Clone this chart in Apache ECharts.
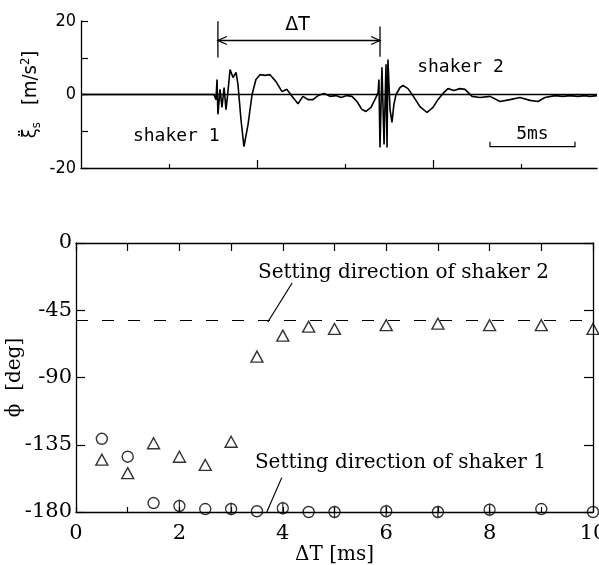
<!DOCTYPE html>
<html>
<head>
<meta charset="utf-8">
<title>shaker timing and phase</title>
<script src="https://cdn.jsdelivr.net/npm/echarts@6/dist/echarts.min.js"></script>
<style>html,body{margin:0;background:#fff;}</style>
</head>
<body>
<div id="chart" style="width:599px;height:565px;"></div>
<script>
// --- top panel: acceleration record [ms, m/s^2]
var signal = [
  [0, 0], [7.55, 0], [7.61, 0], [7.67, -1.4], [7.73, 4.1], [7.78, -5.4], [7.90, 1.4],
  [8.01, -3.5], [8.13, 1.9], [8.24, -4.1], [8.35, 0.8], [8.47, 6.8], [8.64, 4.6],
  [8.81, 6.0], [8.92, 2.7], [9.09, -6.8], [9.26, -14.2], [9.49, -8.2], [9.72, 0],
  [9.94, 4.1], [10.17, 5.4], [10.45, 5.2], [10.74, 5.4], [11.08, 3.5], [11.42, 0.8],
  [11.70, 1.4], [11.99, -0.5], [12.33, -2.5], [12.61, -0.5], [12.90, -1.4], [13.18, -1.4],
  [13.47, -0.3], [13.81, 0.3], [14.15, -0.5], [14.49, -0.3], [14.77, -0.8], [15.11, -0.3],
  [15.40, -0.5], [15.68, -1.9], [15.97, -4.1], [16.19, -4.6], [16.48, -3.5], [16.76, -0.8],
  [16.88, 0.5], [16.93, 4.1], [16.99, -14.4], [17.10, 7.4], [17.22, -13.6], [17.33, 8.2],
  [17.39, -14.4], [17.44, 9.5], [17.56, -4.1], [17.67, -7.6], [17.78, -2.7], [17.90, 0],
  [18.13, 1.9], [18.30, 2.5], [18.58, 1.6], [18.86, -0.3], [19.26, -3.3], [19.66, -4.9],
  [20.00, -3.5], [20.28, -1.4], [20.57, 0.3], [20.85, 1.6], [21.19, 1.1], [21.53, 1.6],
  [21.82, 1.4], [22.22, -0.5], [22.67, -0.8], [23.24, -0.5], [23.81, -1.9], [24.38, -1.4],
  [24.94, -0.8], [25.51, -1.6], [25.97, -1.9], [26.36, -0.8], [26.93, -0.3], [27.39, -0.5],
  [27.78, -0.3], [28.24, -0.5], [28.64, -0.3], [28.92, -0.5], [29.32, -0.3]
];
var timeMax = 29.32;
var accTicks = [-20, 0, 20];

// --- bottom panel: phase vs delta T
var dT = [0.5, 1, 1.5, 2, 2.5, 3, 3.5, 4, 4.5, 5, 6, 7, 8, 9, 10];
var phiCircle = [-131, -143, -174, -176, -178, -178, -179.5, -177.5, -180, -180, -179.5, -180, -178.5, -178, -180];
var phiTriangle = [-145, -154, -134, -143, -148.5, -133, -76, -62, -56, -57.5, -55, -54, -55, -55, -57.5];
var barred = [2, 3, 4, 5, 6, 7, 8];   // circles drawn with a vertical stroke
var dirShaker1 = -180;
var dirShaker2 = -52;

var SERIF = "'DejaVu Serif', serif";
var SANS = "'DejaVu Sans Condensed', 'DejaVu Sans', sans-serif";
var MONO = "'DejaVu Sans Mono', monospace";
var BAR_CIRCLE = 'path://M0,-6L0,6M-5,0A5,5,0,1,0,5,0A5,5,0,1,0,-5,0Z';

var chart = echarts.init(document.getElementById('chart'));

function tick(len, extra) {
  return Object.assign({ show: true, inside: true, length: len, lineStyle: { color: '#000', width: 1.2 } }, extra || {});
}
var axisLine = { show: true, onZero: false, lineStyle: { color: '#000', width: 1.3 } };

var option = {
  animation: false,
  backgroundColor: '#fff',
  grid: [
    { left: 81, top: 21, width: 516, height: 147, containLabel: false, outerBoundsMode: 'none' },
    { left: 76, top: 243, width: 517, height: 269, containLabel: false, outerBoundsMode: 'none' }
  ],
  xAxis: [
    {
      gridIndex: 0, type: 'value', min: 0, max: timeMax, position: 'bottom',
      axisLine: axisLine, splitLine: { show: false },
      axisTick: tick(4, { customValues: [5, 15, 25] }),
      axisLabel: { show: false }
    },
    {
      gridIndex: 0, type: 'value', min: 0, max: timeMax, position: 'bottom',
      axisLine: { show: false, onZero: false }, splitLine: { show: false },
      axisTick: tick(8, { customValues: [10, 20] }),
      axisLabel: { show: false }
    },
    {
      gridIndex: 1, type: 'value', min: 0, max: 10, interval: 2, position: 'bottom',
      axisLine: axisLine, splitLine: { show: false },
      axisTick: tick(5),
      minorTick: { show: true, splitNumber: 2, length: 5, lineStyle: { color: '#000', width: 1.2 } },
      minorSplitLine: { show: false },
      axisLabel: { color: '#000', fontFamily: SERIF, fontSize: 21, margin: 11 },
      name: 'ΔT [ms]', nameLocation: 'middle', nameGap: 33, nameMoveOverlap: false,
      nameTextStyle: { color: '#000', fontFamily: SERIF, fontSize: 20 }
    },
    {
      gridIndex: 1, type: 'value', min: 0, max: 10, interval: 1, position: 'top',
      axisLine: axisLine, splitLine: { show: false },
      axisTick: tick(8),
      axisLabel: { show: false }
    }
  ],
  yAxis: [
    {
      gridIndex: 0, type: 'value', min: -20, max: 20, interval: 10,
      axisLine: axisLine, splitLine: { show: false },
      axisTick: tick(7),
      axisLabel: {
        color: '#000', fontFamily: SANS, fontSize: 18, margin: 5,
        formatter: function (v) { return accTicks.indexOf(v) >= 0 ? String(v) : ''; }
      },
      name: '{a|ξ̈}{b|s}{a|   [m/s}{c|2}{a|]}', nameLocation: 'middle', nameGap: 38, nameMoveOverlap: false,
      nameTextStyle: {
        rich: {
          a: { fontFamily: SANS, fontSize: 20, color: '#000', lineHeight: 24 },
          b: { fontFamily: SANS, fontSize: 13, color: '#000', lineHeight: 24, verticalAlign: 'bottom' },
          c: { fontFamily: SANS, fontSize: 13, color: '#000', lineHeight: 24, verticalAlign: 'top' }
        }
      }
    },
    {
      gridIndex: 1, type: 'value', min: -180, max: 0, interval: 45, position: 'left',
      axisLine: axisLine, splitLine: { show: false },
      axisTick: tick(9),
      axisLabel: { color: '#000', fontFamily: SERIF, fontSize: 21, margin: 4 },
      name: 'ϕ  [deg]', nameLocation: 'middle', nameGap: 51, nameMoveOverlap: false,
      nameTextStyle: { color: '#000', fontFamily: SERIF, fontSize: 20 }
    },
    {
      gridIndex: 1, type: 'value', min: -180, max: 0, interval: 45, position: 'right',
      axisLine: axisLine, splitLine: { show: false },
      axisTick: tick(9),
      axisLabel: { show: false }
    }
  ],
  series: [
    {
      type: 'line', xAxisIndex: 0, yAxisIndex: 0,
      data: signal, showSymbol: false, symbol: 'none',
      lineStyle: { color: '#000', width: 1.6 },
      markLine: {
        silent: true, symbol: 'none', label: { show: false },
        lineStyle: { color: '#000', type: 'solid', width: 1.3 },
        data: [{ yAxis: 0 }]
      }
    },
    {
      type: 'scatter', xAxisIndex: 2, yAxisIndex: 1, clip: false,
      data: dT.map(function (x, i) { return [x, phiCircle[i]]; }),
      symbol: function (v) { return barred.indexOf(v[0]) >= 0 ? BAR_CIRCLE : 'circle'; },
      symbolSize: function (v) { return barred.indexOf(v[0]) >= 0 ? [11, 13.2] : 11; },
      itemStyle: { color: 'rgba(0,0,0,0)', borderColor: '#000', borderWidth: 1.4 }
    },
    {
      type: 'scatter', xAxisIndex: 2, yAxisIndex: 1, clip: false,
      data: dT.map(function (x, i) { return [x, phiTriangle[i]]; }),
      symbol: 'triangle', symbolSize: [12, 11],
      itemStyle: { color: 'rgba(0,0,0,0)', borderColor: '#000', borderWidth: 1.4 },
      markLine: {
        silent: true, symbol: 'none', label: { show: false },
        lineStyle: { color: '#000', type: [12, 14], width: 1.2 },
        data: [{ yAxis: dirShaker2 }]
      }
    }
  ]
};
chart.setOption(option);

// --- annotations, placed in data units and converted through the axes
function pTop(x, y) { return chart.convertToPixel({ xAxisIndex: 0, yAxisIndex: 0 }, [x, y]); }
function pBot(x, y) { return chart.convertToPixel({ xAxisIndex: 2, yAxisIndex: 1 }, [x, y]); }
function seg(p, q, w) {
  return { type: 'line', shape: { x1: p[0], y1: p[1], x2: q[0], y2: q[1] }, style: { stroke: '#000', lineWidth: w || 1.2 } };
}
function txt(p, s, font, size, align) {
  return { type: 'text', style: { x: p[0], y: p[1], text: s, fontFamily: font, fontSize: size, fill: '#000', align: align || 'left', verticalAlign: 'middle' } };
}

var g = [];
// delta T arrow between the two hits
var a0 = pTop(7.78, 14.7), a1 = pTop(16.99, 14.7);
g.push(seg(pTop(7.78, 19.9), pTop(7.78, 10.1), 1.3));
g.push(seg(pTop(16.99, 18.5), pTop(16.99, 10.3), 1.3));
g.push(seg(a0, a1, 1.3));
g.push({ type: 'polyline', shape: { points: [[a0[0] + 9, a0[1] - 4], a0, [a0[0] + 9, a0[1] + 4]] }, style: { stroke: '#000', lineWidth: 1.3, fill: null } });
g.push({ type: 'polyline', shape: { points: [[a1[0] - 9, a1[1] - 4], a1, [a1[0] - 9, a1[1] + 4]] }, style: { stroke: '#000', lineWidth: 1.3, fill: null } });
g.push(txt(pTop(12.3, 19.0), 'ΔT', "'DejaVu Sans', sans-serif", 19, 'center'));
g.push(txt(pTop(2.95, -11.4), 'shaker 1', MONO, 18));
g.push(txt(pTop(19.1, 7.4), 'shaker 2', MONO, 18));
// 5 ms scale bar
var s0 = pTop(23.24, -14.2), s1 = pTop(28.07, -14.2);
g.push({ type: 'polyline', shape: { points: [[s0[0], s0[1] - 5], s0, s1, [s1[0], s1[1] - 5]] }, style: { stroke: '#000', lineWidth: 1.2, fill: null } });
g.push(txt(pTop(25.65, -10.9), '5ms', MONO, 18, 'center'));
// setting-direction notes
g.push(seg(pBot(3.71, dirShaker2 - 0.9), pBot(4.18, -26.8)));
g.push(txt(pBot(3.52, -20), 'Setting direction of shaker 2', SERIF, 20));
g.push(seg(pBot(3.69, dirShaker1), pBot(3.98, -157)));
g.push(txt(pBot(3.46, -147), 'Setting direction of shaker 1', SERIF, 20));

chart.setOption({ graphic: g });
</script>
</body>
</html>
